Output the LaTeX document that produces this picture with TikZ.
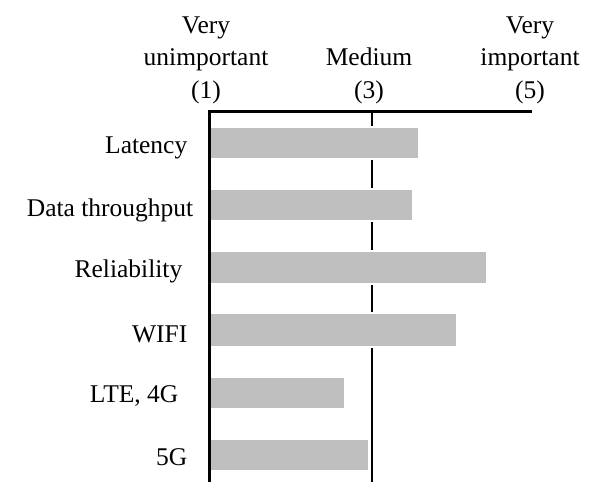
\documentclass[tikz,border=0pt]{standalone}
\usepackage{fontspec}
\setmainfont{Liberation Serif}
\definecolor{barfill}{HTML}{BFBFBF}
\begin{document}
\begin{tikzpicture}[x=1pt,y=-1pt,
  every node/.style={inner sep=0pt,font=\fontsize{25.5}{32.5}\selectfont},
  scalelabel/.style={align=center,anchor=south},
  itemlabel/.style={anchor=base east},
  bar/.style={fill=barfill,draw=white,line width=1.5pt},
  axisline/.style={line width=3pt},
  midline/.style={line width=1.4pt}]
\useasboundingbox (0,0) rectangle (591,482);

% scale captions
\node[scalelabel] (low) at (206,104) {Very\\unimportant\\(1)};
\node[scalelabel] (mid) at (369,104) {Medium\\(3)};
\node[scalelabel] (high) at (530,104) {Very\\important\\(5)};

% anchors of the axes
\coordinate (origin) at (209,111);
\coordinate (axisend) at (532,111);
\coordinate (axisbottom) at (209,482);
\coordinate (midtop) at (372,111);
\coordinate (midbottom) at (372,482);

% medium reference line (behind the bars)
\draw[midline] (midtop) -- (midbottom);

% bars
\draw[bar] (210.5,127) rectangle (418.5,159);
\draw[bar] (210.5,189) rectangle (412.5,221);
\draw[bar] (210.5,251) rectangle (486.5,284);
\draw[bar] (210.5,313) rectangle (456.5,347);
\draw[bar] (210.5,377) rectangle (344.5,409);
\draw[bar] (210.5,439) rectangle (369,471);

% axes
\draw[axisline] ([xshift=-1.5pt]origin) -- (axisend);
\draw[axisline] (origin) -- (axisbottom);

% item labels
\node[itemlabel] (lat) at (187.5,153) {Latency};
\node[itemlabel] (thr) at (193.5,216) {Data throughput};
\node[itemlabel] (rel) at (182.5,277) {Reliability};
\node[itemlabel] (wifi) at (187.5,342) {WIFI};
\node[itemlabel] (lte) at (178.5,402) {LTE, 4G};
\node[itemlabel] (fiveg) at (187.5,465) {5G};
\end{tikzpicture}
\end{document}
